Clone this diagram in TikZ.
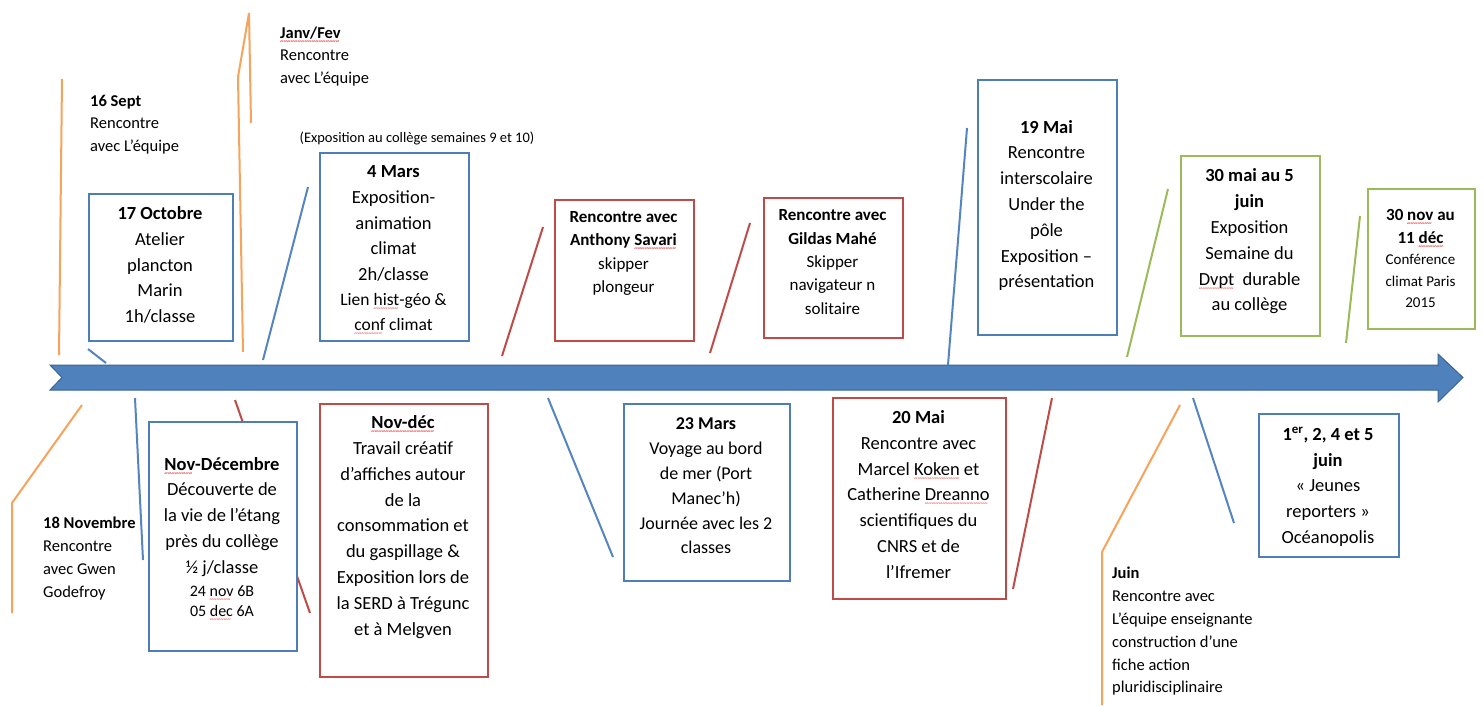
\documentclass[tikz,border=0pt]{standalone}
\usepackage{fontspec}
\setmainfont{Carlito}
\definecolor{bblue}{HTML}{4F7DB5}
\definecolor{lblue}{HTML}{5585C0}
\definecolor{rred}{HTML}{BE4B48}
\definecolor{ggreen}{HTML}{9BBB59}
\definecolor{oorange}{HTML}{F6A35C}
\definecolor{arrfill}{HTML}{4F81BD}
\definecolor{arrdraw}{HTML}{3A6496}
\definecolor{spellred}{HTML}{E02020}
\newsavebox\spellbox
\newcommand\spell[1]{\sbox\spellbox{#1}\leavevmode\rlap{\smash{\lower5pt\hbox to\wd\spellbox{\textcolor{spellred}{\fontsize{7}{7}\selectfont\leaders\hbox{\char"7E}\hfill}}}}\usebox\spellbox}
\begin{document}
\begin{tikzpicture}[x=1pt,y=-1pt,
  box/.style={draw=#1, line width=2.2pt, fill=white, inner sep=0pt, anchor=north west},
  txt/.style={align=center, inner sep=0pt, font=\fontsize{18.5}{25.8}\selectfont},
  smalltxt/.style={align=center, inner sep=0pt, font=\fontsize{17}{23.3}\selectfont},
  note/.style={align=left, inner sep=0pt, anchor=west, font=\fontsize{16.5}{22.8}\selectfont},
  ln/.style={draw=#1, line width=2pt}]
\useasboundingbox (0,0) rectangle (1484,705);
\fill[white] (0,0) rectangle (1484,705);

% timeline arrow
\coordinate (tail) at (50,365);
\draw[fill=arrfill, draw=arrdraw, line width=1pt]
  (tail) -- (1438,365) -- (1438,354) -- (1463,377.5) -- (1438,402) -- (1438,390)
  -- (50,390) -- (62,377.5) -- cycle;

% connector lines (top)
\coordinate (a1) at (62,79);   \coordinate (a2) at (59,355);
\draw[ln=oorange] (a1) -- (a2);
\coordinate (b1) at (243,352); \coordinate (b2) at (238,77); \coordinate (b3) at (249,13); \coordinate (b4) at (251,123);
\draw[ln=oorange] (b1) -- (b2) -- (b3) -- (b4);
\coordinate (c1) at (88,349);  \coordinate (c2) at (106,363);
\draw[ln=lblue] (c1) -- (c2);
\coordinate (d1) at (263,360); \coordinate (d2) at (308,187);
\draw[ln=lblue] (d1) -- (d2);
\coordinate (e1) at (502,356); \coordinate (e2) at (543,227);
\draw[ln=rred] (e1) -- (e2);
\coordinate (f1) at (710,353); \coordinate (f2) at (750,223);
\draw[ln=rred] (f1) -- (f2);
\coordinate (g1) at (948,365); \coordinate (g2) at (967,128);
\draw[ln=lblue] (g1) -- (g2);
\coordinate (h1) at (1127,357); \coordinate (h2) at (1168,189);
\draw[ln=ggreen] (h1) -- (h2);
\coordinate (i1) at (1346,343); \coordinate (i2) at (1360,216);
\draw[ln=ggreen] (i1) -- (i2);
% connector lines (bottom)
\coordinate (j1) at (82,405); \coordinate (j2) at (12,503); \coordinate (j3) at (12,613);
\draw[ln=oorange] (j1) -- (j2) -- (j3);
\coordinate (k1) at (135,398); \coordinate (k2) at (143,560);
\draw[ln=lblue] (k1) -- (k2);
\coordinate (l1) at (235,400); \coordinate (l2) at (310,613);
\draw[ln=rred] (l1) -- (l2);
\coordinate (m1) at (548,398); \coordinate (m2) at (613,557);
\draw[ln=lblue] (m1) -- (m2);
\coordinate (o1) at (1052,398); \coordinate (o2) at (1013,589);
\draw[ln=rred] (o1) -- (o2);
\coordinate (p1) at (1180,405); \coordinate (p2) at (1102,552); \coordinate (p3) at (1102,705);
\draw[ln=oorange] (p1) -- (p2) -- (p3);
\coordinate (q1) at (1193,398); \coordinate (q2) at (1234,523);
\draw[ln=lblue] (q1) -- (q2);

% boxes
\node[box=bblue, minimum width=144pt, minimum height=147pt] (bx1) at (88,193) {};
\node[box=bblue, minimum width=149pt, minimum height=188pt] (bx2) at (319,152) {};
\node[box=rred, minimum width=139pt, minimum height=141pt] (bx3) at (554,199) {};
\node[box=rred, minimum width=139pt, minimum height=140pt] (bx4) at (763,197) {};
\node[box=bblue, minimum width=139pt, minimum height=255pt] (bx5) at (977,79) {};
\node[box=ggreen, minimum width=139pt, minimum height=180pt] (bx6) at (1180,155) {};
\node[box=ggreen, minimum width=107pt, minimum height=140pt] (bx7) at (1367,188) {};
\node[box=bblue, minimum width=148pt, minimum height=229pt] (bx8) at (148,421) {};
\node[box=rred, minimum width=168pt, minimum height=273pt] (bx9) at (319,403) {};
\node[box=bblue, minimum width=166pt, minimum height=177pt] (bx10) at (623,403) {};
\node[box=rred, minimum width=173pt, minimum height=201pt] (bx11) at (832,397) {};
\node[box=bblue, minimum width=140pt, minimum height=143pt] (bx12) at (1258,413) {};

% box texts
\node[txt] (t1) at (160,265) {\textbf{17 Octobre}\\Atelier\\plancton\\Marin\\1h/classe};
\node[txt] (t2) at (393.5,248) {\textbf{4 Mars}\\Exposition-\\animation\\climat\\2h/classe\\[-1pt]
  {\fontsize{17.5}{24}\selectfont Lien \spell{hist}-géo \&}\\[-1pt]{\fontsize{17.5}{24}\selectfont \spell{conf} climat}};
\node[smalltxt] (t3) at (623.5,253.5) {\textbf{Rencontre avec}\\\textbf{Anthony \spell{Savari}}\\skipper\\plongeur};
\node[smalltxt] (t4) at (832.5,262) {\textbf{Rencontre avec}\\\textbf{Gildas Mahé}\\Skipper\\navigateur n\\solitaire};
\node[txt] (t5) at (1046.5,205.5) {\textbf{19 Mai}\\Rencontre\\interscolaire\\Under the\\pôle\\Exposition –\\présentation};
\node[txt] (t6) at (1249.5,241.5) {\textbf{30 mai au 5}\\\textbf{juin}\\Exposition\\Semaine du\\\spell{Dvpt}\ \ durable\\au collège};
\node[align=center, inner sep=0pt, font=\fontsize{15}{21.3}\selectfont] (t7) at (1420.5,258.5)
  {{\fontsize{17}{21}\selectfont\bfseries 30 \spell{nov} au}\\[1.5pt]{\fontsize{17}{21}\selectfont\bfseries 11 \spell{déc}}\\Conférence\\climat Paris\\2015};
\node[txt] (t8) at (222,537) {\textbf{\spell{Nov}-Décembre}\\Découverte de\\la vie de l’étang\\près du collège\\½ j/classe\\[-3pt]
  {\fontsize{16}{20}\selectfont 24 \spell{nov} 6B}\\[-5pt]{\fontsize{16}{20}\selectfont 05 \spell{dec} 6A}};
\node[txt] (t9) at (403,527) {\textbf{\spell{Nov-déc}}\\Travail créatif\\d’affiches autour\\de la\\consommation et\\du gaspillage \&\\Exposition lors de\\la SERD à Trégunc\\et à Melgven};
\node[txt, font=\fontsize{18}{24.8}\selectfont] (t10) at (706,486) {\textbf{23 Mars}\\Voyage au bord\\de mer (Port\\Manec’h)\\Journée avec les 2\\classes};
\node[txt] (t11) at (918.5,494.5) {\textbf{20 Mai}\\Rencontre avec\\Marcel \spell{Koken} et\\Catherine \spell{Dreanno}\\scientifiques du\\CNRS et de\\l’Ifremer};
\node[txt] (t12) at (1328,487) {\textbf{1\textsuperscript{er}, 2, 4 et 5}\\\textbf{juin}\\«~Jeunes\\reporters~»\\Océanopolis};

% free notes
\node[note] (n1) at (90,124.5) {\textbf{16 Sept}\\Rencontre\\avec L’équipe};
\node[note] (n2) at (280,56.5) {\textbf{\spell{Janv/Fev}}\\Rencontre\\avec L’équipe};
\node[inner sep=0pt, font=\fontsize{14.5}{17}\selectfont] (n3) at (417,138) {(Exposition au collège semaines 9 et 10)};
\node[note] (n4) at (43,558.5) {\textbf{18 Novembre}\\Rencontre\\avec Gwen\\Godefroy};
\node[note] (n5) at (1112,631.5) {\textbf{Juin}\\Rencontre avec\\L’équipe enseignante\\construction d’une\\fiche action\\pluridisciplinaire};
\end{tikzpicture}
\end{document}
